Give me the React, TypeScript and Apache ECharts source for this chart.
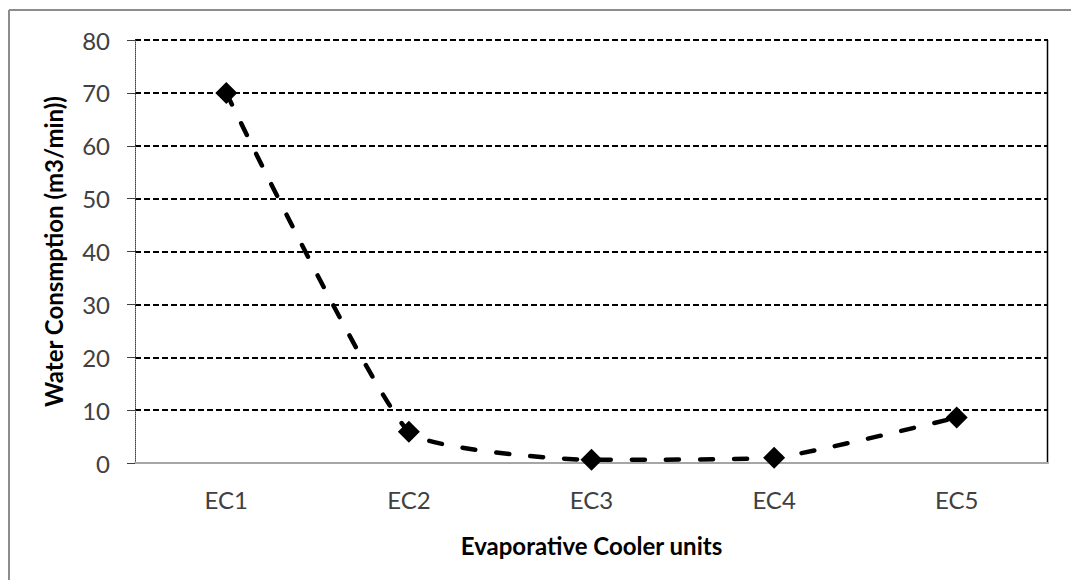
import React, { useEffect, useRef } from "react";
import * as echarts from "echarts";

const categories = ["EC1", "EC2", "EC3", "EC4", "EC5"];
const waterValues = [70, 5.9, 0.6, 1.0, 8.6];
const yAxisTitle = "Water Consmption (m3/min))";
const xAxisTitle = "Evaporative Cooler units";

const FONT = "Lato, 'Open Sans', sans-serif";

export default function App() {
  const ref = useRef<HTMLDivElement>(null);
  useEffect(() => {
    document.body.style.margin = "0";
    const chart = echarts.init(ref.current!, null, { renderer: "svg" });
    chart.setOption({
      animation: false,
      backgroundColor: "#ffffff",
      grid: { left: 135, top: 40, right: 23, bottom: 117, containLabel: false },
      graphic: [
        { type: "line", shape: { x1: 9, y1: 10, x2: 9, y2: 580 }, style: { stroke: "#8c8c8c", lineWidth: 2 } },
        { type: "line", shape: { x1: 9, y1: 10, x2: 1071, y2: 10 }, style: { stroke: "#8c8c8c", lineWidth: 2 } },
        { type: "line", shape: { x1: 1047.5, y1: 40, x2: 1047.5, y2: 463 }, style: { stroke: "#000", lineWidth: 1.5 } },
      ],
      xAxis: {
        type: "category",
        data: categories,
        boundaryGap: true,
        axisLine: { show: true, lineStyle: { color: "#a6a6a6", width: 2 } },
        axisTick: { show: false },
        axisLabel: { color: "#404040", fontFamily: FONT, fontSize: 24, margin: 24 },
        splitLine: { show: false },
        name: xAxisTitle,
        nameLocation: "middle",
        nameGap: 70,
        nameTextStyle: { color: "#000", fontFamily: FONT, fontSize: 24, fontWeight: "bold" },
      },
      yAxis: {
        type: "value",
        min: 0,
        max: 80,
        interval: 10,
        axisLine: { show: true, lineStyle: { color: "#404040", width: 1, type: "dotted" } },
        axisTick: { show: true, inside: false, length: 8, lineStyle: { color: "#404040" } },
        axisLabel: { color: "#404040", fontFamily: FONT, fontSize: 24, margin: 25 },
        splitLine: { show: true, lineStyle: { color: "#000", width: 2, type: [6, 3] } },
        name: yAxisTitle,
        nameLocation: "middle",
        nameGap: 70,
        nameTextStyle: { color: "#000", fontFamily: FONT, fontSize: 24, fontWeight: "bold" },
      },
      series: [
        {
          type: "line",
          data: waterValues,
          smooth: 0.15,
          symbol: "diamond",
          symbolSize: 22,
          itemStyle: { color: "#000" },
          lineStyle: { color: "#000", width: 4.5, type: [13, 21], cap: "round" },
        },
      ],
    });
    return () => chart.dispose();
  }, []);
  return <div ref={ref} style={{ width: 1071, height: 580 }} />;
}
